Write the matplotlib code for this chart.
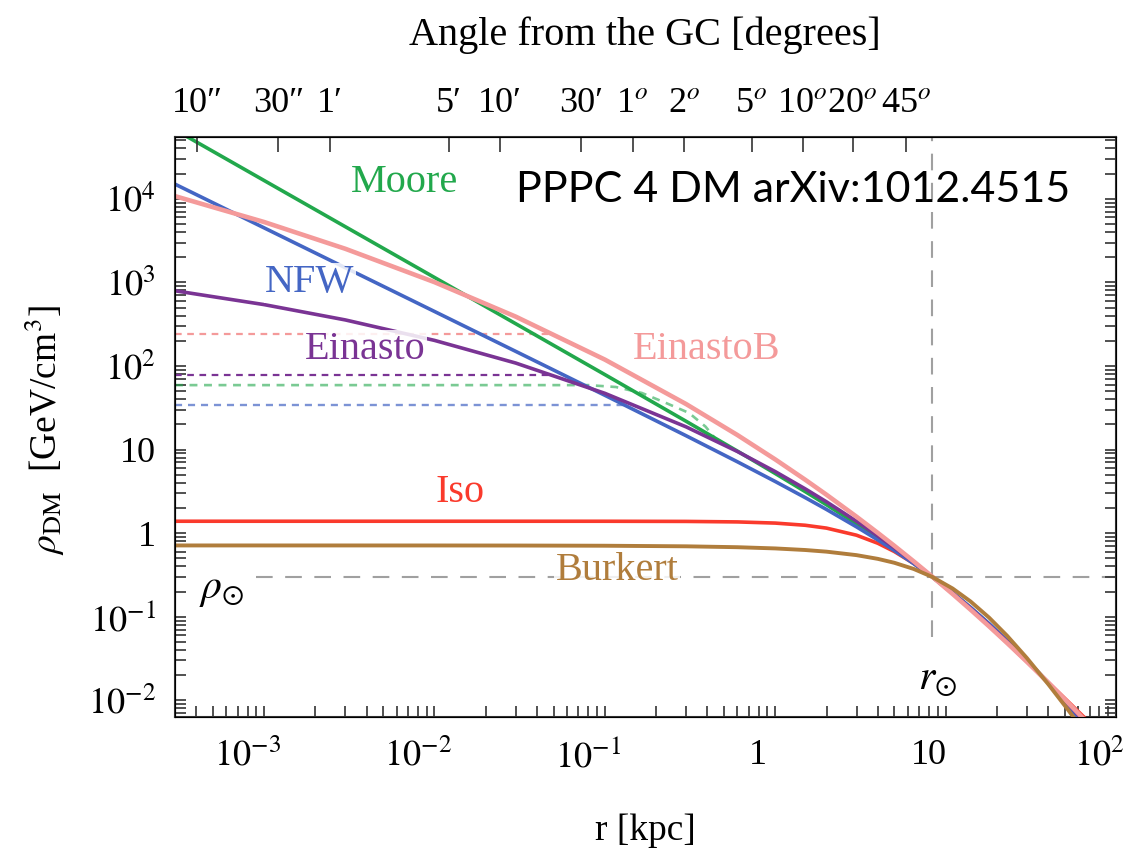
import numpy as np
import matplotlib
matplotlib.use('Agg')
import matplotlib.pyplot as plt
import matplotlib.ticker as mticker
import matplotlib.transforms as mtrans

plt.rcParams['font.family'] = ['Liberation Serif', 'DejaVu Serif']
plt.rcParams['mathtext.fontset'] = 'stix'

# radius grid [kpc] and density profiles [GeV/cm^3]
r = [3e-4, 1e-3, 3e-3, 0.01, 0.03, 0.1, 0.3, 0.6, 1, 1.5, 2, 3, 4, 5, 6.5,
     8.33, 11, 14, 18, 23, 30, 40, 52, 70, 100]
rho_moore = [66970, 16570, 4632, 1145.7, 319.96, 78.84, 21.78, 9.572, 5.169, 3.136,
             2.183, 1.290, 0.8746, 0.6403, 0.4374, 0.3000, 0.1922, 0.1277, 0.08136,
             0.05108, 0.02990, 0.01615, 0.008913, 0.004386, 0.001792]
rho_nfw = [14977, 4493, 1497.4, 448.9, 149.4, 44.57, 14.62, 7.134, 4.147, 2.659,
           1.919, 1.188, 0.8294, 0.6192, 0.4312, 0.2999, 0.1942, 0.1297, 0.08273,
           0.05181, 0.03016, 0.01614, 0.008823, 0.004294, 0.001731]
rho_einasto = [793.6, 542.2, 355.3, 202.3, 108.3, 47.07, 18.67, 9.473, 5.446, 3.385,
               2.367, 1.387, 0.9275, 0.6695, 0.4492, 0.3029, 0.1907, 0.12545, 0.07957,
               0.05008, 0.02964, 0.01635, 0.009258, 0.004712, 0.001999]
rho_einastob = [10765, 5277, 2522, 1006.9, 389.0, 119.2, 34.99, 14.91, 7.621, 4.351,
                2.879, 1.5724, 1.0066, 0.7055, 0.4592, 0.3024, 0.1868, 0.12152, 0.07668,
                0.04833, 0.02889, 0.01627, 0.009482, 0.005047, 0.002302]
rho_iso = [1.387, 1.387, 1.387, 1.387, 1.3869, 1.3863, 1.3805, 1.3614, 1.3183, 1.2414,
           1.1477, 0.9441, 0.7563, 0.6022, 0.4331, 0.3004, 0.18982, 0.12366, 0.07753,
           0.04854, 0.02895, 0.01643, 0.009771, 0.005409, 0.002656]
rho_burkert = [0.71198, 0.71194, 0.71183, 0.71144, 0.71032, 0.70638, 0.69514, 0.67829,
               0.65583, 0.62783, 0.59998, 0.54513, 0.49210, 0.44174, 0.37253, 0.29993,
               0.21732, 0.15230, 0.09745, 0.05888, 0.03200, 0.015617, 0.007817,
               0.003462, 0.001265]

# smoothed (dashed) inner profiles
r_dash_einastob = [3e-4, 0.05]
rho_dash_einastob = [240, 240]
r_dash_einasto = [3e-4, 0.05]
rho_dash_einasto = [77, 77]
r_dash_moore = [3e-4, 0.08, 0.116, 0.165, 0.229, 0.312, 0.39, 0.44]
rho_dash_moore = [59, 59, 56, 47.5, 36, 27.4, 18.8, 13.9]
r_dash_nfw = [3e-4, 0.13]
rho_dash_nfw = [34, 34]

r_sun = 8.33
rho_sun = 0.3

x_ticks = [1e-3, 1e-2, 1e-1, 1, 10, 100]
x_ticklabels = [r'$10^{-3}$', r'$10^{-2}$', r'$10^{-1}$', '1', '10', r'$10^{2}$']
y_ticks = [1e-2, 1e-1, 1, 10, 1e2, 1e3, 1e4]
y_ticklabels = [r'$10^{-2}$', r'$10^{-1}$', '1', '10', r'$10^{2}$', r'$10^{3}$', r'$10^{4}$']

angle_deg = [10 / 3600, 30 / 3600, 1 / 60, 5 / 60, 10 / 60, 0.5, 1, 2, 5, 10, 20, 45]
angle_labels = ['10\u2033', '30\u2033', '1\u2032', '5\u2032', '10\u2032', '30\u2032',
                r'1$^o$', r'2$^o$', r'5$^o$', r'10$^o$', r'20$^o$', r'45$^o$']

c_moore = '#22a84c'
c_nfw = '#4466c4'
c_einasto = '#7a3494'
c_einastob = '#f49a9a'
c_iso = '#fa3a2c'
c_burkert = '#b07d3c'
c_grey = '#a0a0a0'

fig = plt.figure(figsize=(11.46, 8.56), dpi=100)
ax = fig.add_axes([0.1527, 0.1624, 0.8211, 0.6776])
ax.set_xscale('log')
ax.set_yscale('log')
ax.set_xlim(3e-4, 100)
ax.set_ylim(10 ** -2.2, 10 ** 4.74)

# reference lines
ax.plot([9e-4, 100], [rho_sun, rho_sun], color=c_grey, lw=1.5, dashes=(8, 6), zorder=1)
ax.plot([r_sun, r_sun], [0.057, 1e5], color=c_grey, lw=1.5, dashes=(8, 6), zorder=1)

# smoothed profiles
ax.plot(r_dash_einastob, rho_dash_einastob, color=c_einastob, lw=1.6, dashes=(3, 2.5), zorder=2)
ax.plot(r_dash_einasto, rho_dash_einasto, color=c_einasto, lw=1.6, dashes=(3, 2.5), zorder=2)
ax.plot(r_dash_moore, rho_dash_moore, color=c_moore, lw=1.9, dashes=(3, 2.5), alpha=0.6, zorder=2)
ax.plot(r_dash_nfw, rho_dash_nfw, color=c_nfw, lw=1.7, dashes=(3, 2.5), alpha=0.7, zorder=2)

# profiles
ax.plot(r, rho_iso, color=c_iso, lw=2.6, zorder=3)
ax.plot(r, rho_moore, color=c_moore, lw=2.6, zorder=3)
ax.plot(r, rho_nfw, color=c_nfw, lw=2.6, zorder=3)
ax.plot(r, rho_einasto, color=c_einasto, lw=2.6, zorder=3)
ax.plot(r, rho_einastob, color=c_einastob, lw=3.3, zorder=4)
ax.plot(r, rho_burkert, color=c_burkert, lw=2.8, zorder=5)

box = dict(facecolor='white', edgecolor='none', alpha=0.85, pad=1)
lab = dict(transform=ax.transAxes, ha='center', va='center', fontsize=29, zorder=6)
ax.text(0.2444, 0.9207, 'Moore', color=c_moore, **lab)
ax.text(0.1435, 0.7483, 'NFW', color=c_nfw, bbox=box, **lab)
ax.text(0.2019, 0.6328, 'Einasto', color=c_einasto, bbox=box, **lab)
ax.text(0.5654, 0.6328, 'EinastoB', color=c_einastob, **lab)
ax.text(0.3029, 0.3862, 'Iso', color=c_iso, **lab)
ax.text(0.4697, 0.2534, 'Burkert', color=c_burkert, bbox=box, **lab)
ax.text(0.0499, 0.219, r'$\rho_{\odot}$', color='black', transform=ax.transAxes,
        ha='center', va='center', fontsize=30, zorder=6)
ax.text(0.8108, 0.0638, r'$r_{\odot}$', color='black', transform=ax.transAxes,
        ha='center', va='center', fontsize=30, zorder=6)
ax.text(0.6567, 0.9086, 'PPPC 4 DM arXiv:1012.4515', color='black', transform=ax.transAxes,
        ha='center', va='center', fontsize=31, family='Lato', zorder=6)

# axes styling
ax.xaxis.set_major_locator(mticker.FixedLocator(x_ticks))
ax.set_xticklabels(x_ticklabels)
ax.yaxis.set_major_locator(mticker.FixedLocator(y_ticks))
ax.set_yticklabels(y_ticklabels)
ax.xaxis.set_minor_locator(mticker.LogLocator(base=10, subs=np.arange(2, 10), numticks=20))
ax.yaxis.set_minor_locator(mticker.LogLocator(base=10, subs=np.arange(2, 10), numticks=20))
ax.tick_params(which='both', direction='in', length=8, width=1.2, color='#333333',
               left=True, right=True, top=False, bottom=True)
ax.tick_params(axis='x', which='major', labelsize=26, pad=16)
ax.tick_params(axis='y', which='major', labelsize=26, pad=14)
for s in ax.spines.values():
    s.set_linewidth(1.5)
    s.set_color('#333333')

shift = mtrans.ScaledTranslation(-0.17, 0, fig.dpi_scale_trans)
for t in ax.get_xticklabels():
    t.set_transform(t.get_transform() + shift)

ax2 = ax.twiny()
ax2.set_xscale('log')
ax2.set_xlim(ax.get_xlim())
ax2.xaxis.set_major_locator(mticker.FixedLocator([r_sun * np.sin(np.radians(a)) for a in angle_deg]))
ax2.xaxis.set_minor_locator(mticker.NullLocator())
ax2.set_xticklabels(angle_labels)
ax2.tick_params(axis='x', which='major', direction='in', length=11, width=1.2,
                color='#333333', labelsize=26, pad=12)

fig.text(0.563, 0.959, 'Angle from the GC [degrees]', ha='center', va='center', fontsize=29)
fig.text(0.563, 0.030, 'r [kpc]', ha='center', va='center', fontsize=27)
fig.text(0.039, 0.498, r'$\rho_{\rm DM}$  [GeV/cm$^3$]', ha='center', va='center',
         fontsize=27, rotation=90)

fig.savefig('out.png', dpi=100)
